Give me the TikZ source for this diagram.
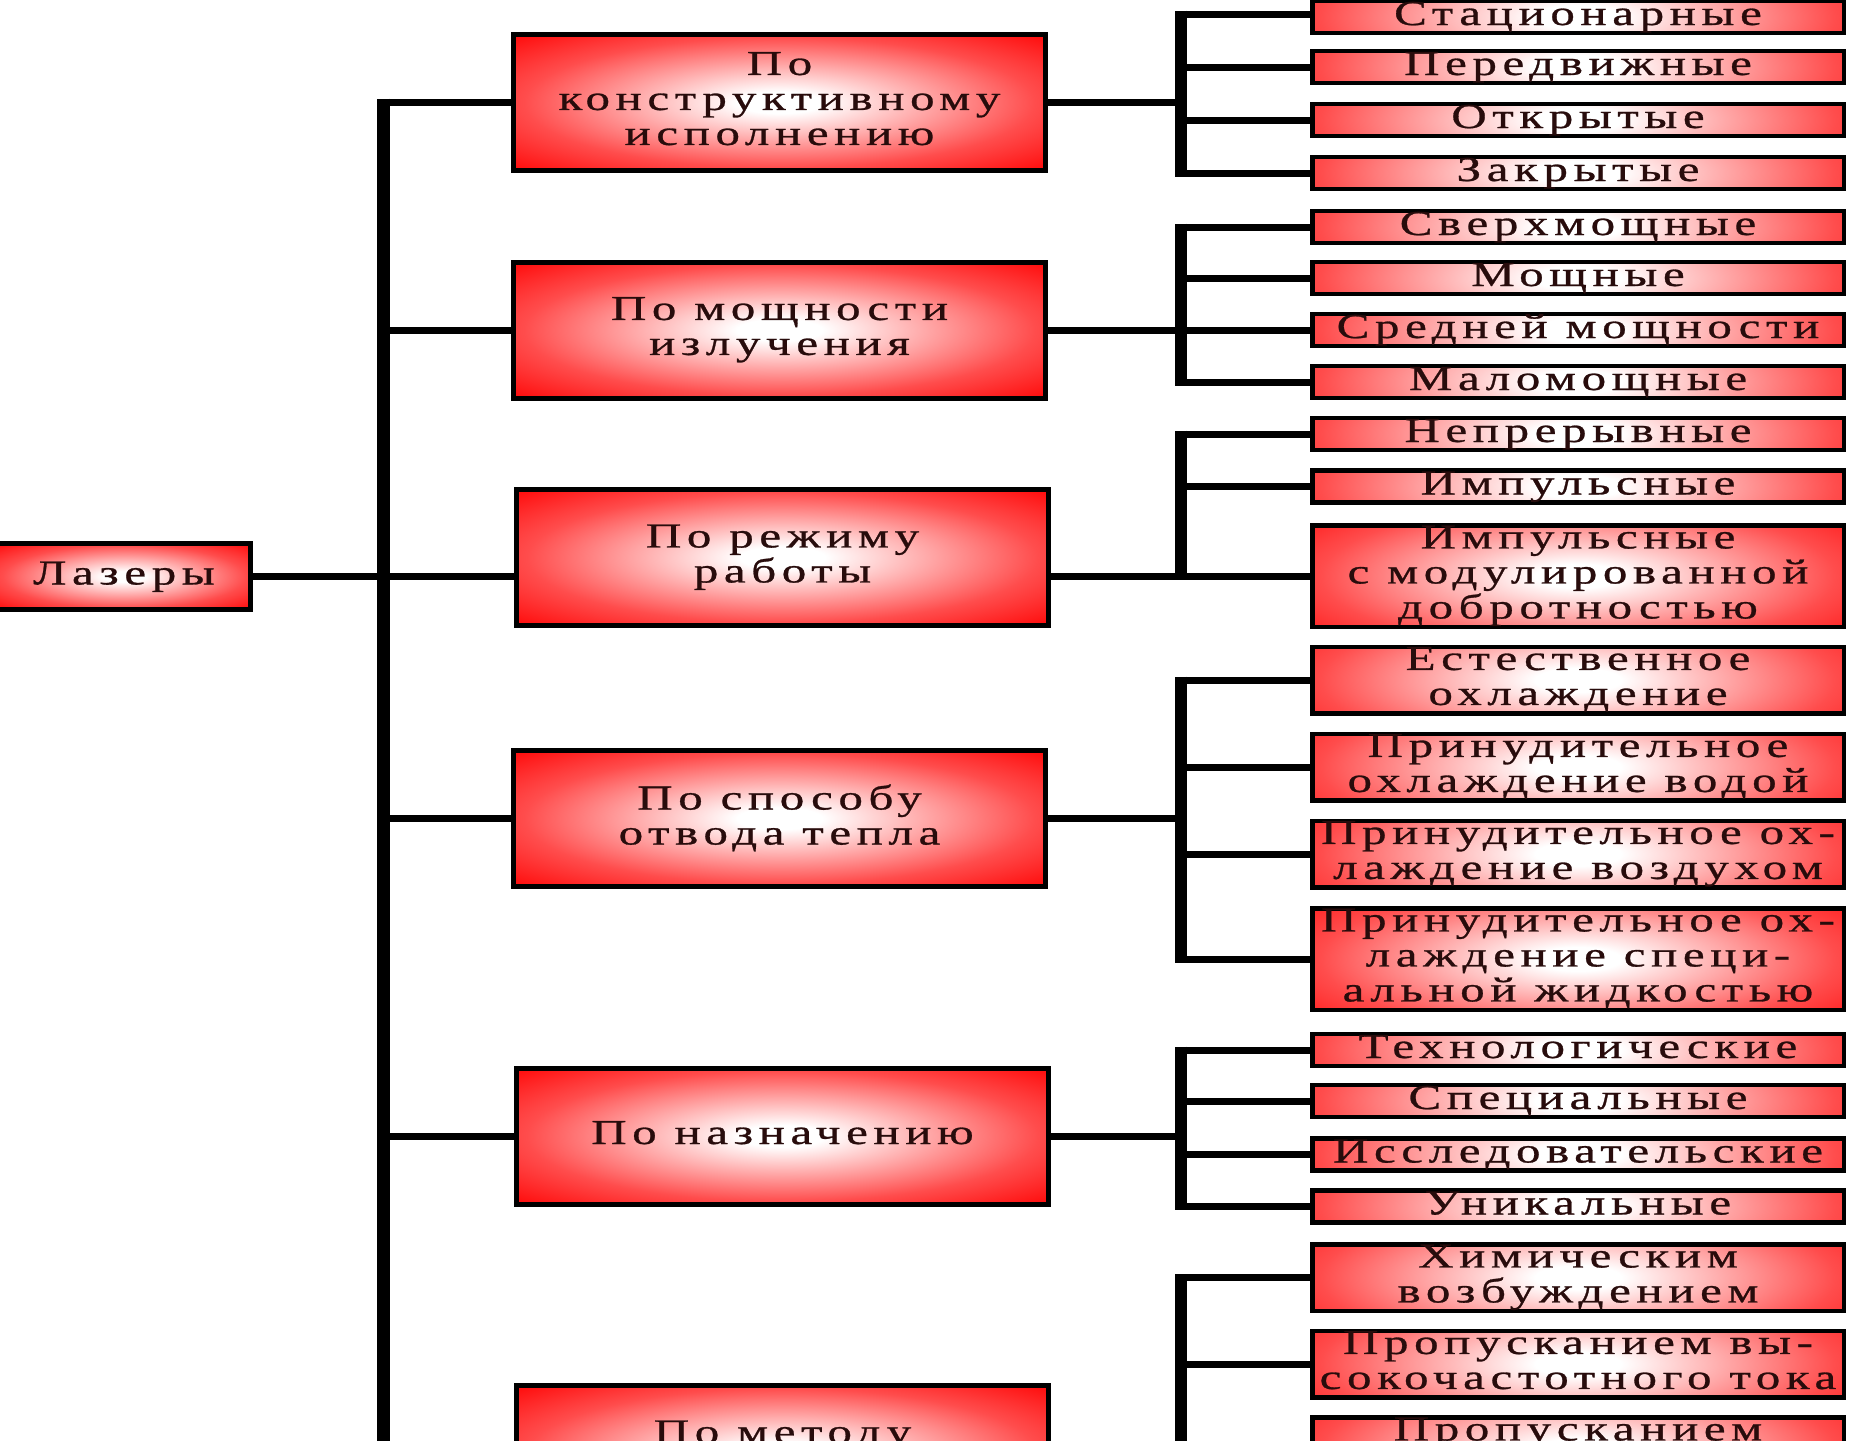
\documentclass[tikz,border=0pt]{standalone}
\usepackage{fontspec}
\setmainfont{Liberation Serif}[FakeStretch=1.4,LetterSpace=16,FakeBold=0.8]
\usetikzlibrary{calc}
\pgfdeclareradialshading{redglow}{\pgfpoint{0bp}{0bp}}{color(0bp)=(white); color(4bp)=(white); color(14bp)=(red!35!white); color(24bp)=(red!70!white); color(34bp)=(red!93!white); color(40bp)=(red); color(100bp)=(red)}
\definecolor{txt}{RGB}{40,12,12}
\newcommand\mystrut{\rule[-8pt]{0pt}{32pt}}
\tikzset{
  lbl/.style={font=\fontsize{35}{35}\selectfont, text=txt, align=center, inner sep=0pt,
    execute at begin node=\mystrut, execute at end node=\mystrut},
  mainbox/.style={lbl, rectangle, draw=black, line width=5pt, shade, shading=redglow,
    minimum width=532pt, minimum height=136pt},
  rootbox/.style={lbl, rectangle, draw=black, line width=5pt, shade, shading=redglow,
    minimum width=253pt, minimum height=66pt},
  subbox/.style={lbl, rectangle, draw=black, line width=4.5pt, fill=red,
    minimum width=531.5pt, minimum height=31.5pt,
    path picture={\shade[shading=redglow]
      ([shift={(-268pt,-75pt)}]path picture bounding box.center) rectangle
      ([shift={(268pt,75pt)}]path picture bounding box.center);}},
  two/.style={minimum height=66.5pt},
  three/.style={minimum height=101.5pt},
  link/.style={line width=7pt, draw=black},
  trunk/.style={line width=12pt, draw=black},
}
\begin{document}
\begin{tikzpicture}[x=1pt,y=-1pt]
\useasboundingbox (0,0) rectangle (1849,1440);
\fill[white] (0,0) rectangle (1849,1440);
\clip (0,0) rectangle (1849,1440);

% trunks
\coordinate (tTop) at (383,98.5);
\coordinate (tBot) at (383,1450);
\coordinate (st) at (1181,0);

% root and main boxes
\node[rootbox] (las) at (124,576.5) {Лазеры};
\node[mainbox] (b1) at (779.5,102.5) {По\\конструктивному\\исполнению};
\node[mainbox] (b2) at (779.5,330) {По мощности\\излучения};
\node[mainbox] (b3) at (782.5,557.5) {По режиму\\работы};
\node[mainbox] (b4) at (779.5,818.5) {По способу\\отвода тепла};
\node[mainbox] (b5) at (782.5,1136) {По назначению};
\node[mainbox] (b6) at (782.5,1453.5) {По методу\\\mbox{}};

% sub boxes
\node[subbox] (s11) at (1578,17) {Стационарные};
\node[subbox] (s12) at (1578,67) {Передвижные};
\node[subbox] (s13) at (1578,120) {Открытые};
\node[subbox] (s14) at (1578,173) {Закрытые};

\node[subbox] (s21) at (1578,227) {Сверхмощные};
\node[subbox] (s22) at (1578,278) {Мощные};
\node[subbox] (s23) at (1578,330) {Средней мощности};
\node[subbox] (s24) at (1578,382) {Маломощные};

\node[subbox] (s31) at (1578,434) {Непрерывные};
\node[subbox] (s32) at (1578,486.5) {Импульсные};
\node[subbox,three] (s33) at (1578,576) {Импульсные\\с модулированной\\добротностью};

\node[subbox,two] (s41) at (1578,680) {Естественное\\охлаждение};
\node[subbox,two] (s42) at (1578,767) {Принудительное\\охлаждение водой};
\node[subbox,two] (s43) at (1578,854) {Принудительное ох-\\лаждение воздухом};
\node[subbox,three] (s44) at (1578,959) {Принудительное ох-\\лаждение специ-\\альной жидкостью};

\node[subbox] (s51) at (1578,1050) {Технологические};
\node[subbox] (s52) at (1578,1101) {Специальные};
\node[subbox] (s53) at (1578,1154.5) {Исследовательские};
\node[subbox] (s54) at (1578,1206.5) {Уникальные};

\node[subbox,two] (s61) at (1578,1277.5) {Химическим\\возбуждением};
\node[subbox,two] (s62) at (1578,1364) {Пропусканием вы-\\сокочастотного тока};
\node[subbox,two] (s63) at (1578,1450.5) {Пропусканием\\\mbox{}};

% main trunk and connectors
\draw[trunk, line width=13pt] (tTop) -- (tBot);
\draw[link] (las.east) -- (b3.west |- las.east);
\draw[link] (b1.west) -- (b1.west -| tTop);
\draw[link] (b2.west) -- (b2.west -| tTop);
\draw[link] (b4.west) -- (b4.west -| tTop);
\draw[link] (b5.west) -- (b5.west -| tTop);
\draw[link] (b6.west) -- (b6.west -| tTop);

% sub trunks
\draw[trunk] ([yshift=6.5pt]s11.west -| st) -- ([yshift=-3.5pt]s14.west -| st);
\draw[trunk] ([yshift=3.5pt]s21.west -| st) -- ([yshift=-3.5pt]s24.west -| st);
\draw[trunk] ([yshift=3.5pt]s31.west -| st) -- ([yshift=-3.5pt]s33.west -| st);
\draw[trunk] ([yshift=3.5pt]s41.west -| st) -- ([yshift=-3.5pt]s44.west -| st);
\draw[trunk] ([yshift=3.5pt]s51.west -| st) -- ([yshift=-3.5pt]s54.west -| st);
\draw[trunk] ([yshift=3.5pt]s61.west -| st) -- ([yshift=-3.5pt]s63.west -| st);

% main-to-sub connectors
\draw[link] (b1.east) -- (b1.east -| st);
\draw[link] (b2.east) -- (b2.east -| st);
\draw[link] (b3.east |- s33.west) -- (s33.west -| st);
\draw[link] (b4.east) -- (b4.east -| st);
\draw[link] (b5.east) -- (b5.east -| st);
\draw[link] (b6.east) -- (b6.east -| st);

% branches
\draw[link] ([yshift=3pt]s11.west) -- ([yshift=3pt]s11.west -| st);
\foreach \s in {s12,s13,s14,s21,s22,s23,s24,s31,s32,s33,s41,s42,s43,s44,s51,s52,s53,s54,s61,s62,s63}
  \draw[link] (\s.west) -- (\s.west -| st);
\end{tikzpicture}
\end{document}
